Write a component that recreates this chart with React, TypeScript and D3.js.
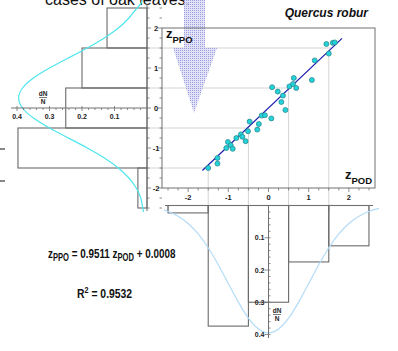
import React from "react";
import * as d3 from "d3";

// scatter of standardised scores (z POD vs z PPO)
const zPOD = [-1.5, -1.27, -1.27, -1.01, -1.05, -0.94, -0.89, -0.8, -0.69, -0.65, -0.57, -0.51, -0.47, -0.28, -0.24, -0.17, -0.09, 0.07, 0.09, 0.23, 0.32, 0.36, 0.42, 0.52, 0.61, 0.63, 0.69, 1.08, 1.15, 1.44, 1.5, 1.6, 1.65];
const zPPO = [-1.5, -1.25, -1.39, -0.85, -1.0, -0.93, -1.02, -0.75, -0.66, -0.72, -0.83, -0.58, -0.34, -0.54, -0.4, -0.19, -0.18, -0.26, 0.52, 0.41, 0.15, 0.31, -0.05, 0.54, 0.6, 0.75, 0.5, 0.7, 1.19, 1.6, 1.36, 1.63, 1.64];

// regression
const slope = 0.9511;
const intercept = 0.0008;
const lineRange = [-1.645, 1.83];

// histograms (bins of width 1 centred on -2..2)
const binEdges = [-2.5, -1.5, -0.5, 0.5, 1.5, 2.5];
const histPPO = [0.028, 0.397, 0.25, 0.2, 0.123];
const histPOD = [0.023, 0.374, 0.3, 0.175, 0.125];
const guideEdges = [-1.5, -0.5, 0.5, 1.5];

// normal density curve samples
const curveZ = [-2.7, -2.6, -2.5, -2.25, -2, -1.75, -1.5, -1.25, -1, -0.75, -0.5, -0.25, 0, 0.25, 0.5, 0.75, 1, 1.25, 1.5, 1.75, 2, 2.25, 2.5, 2.6, 2.75];
const curveD = [0.0104, 0.0136, 0.0175, 0.0317, 0.054, 0.0863, 0.1295, 0.1826, 0.242, 0.3011, 0.3521, 0.3867, 0.3989, 0.3867, 0.3521, 0.3011, 0.242, 0.1826, 0.1295, 0.0863, 0.054, 0.0317, 0.0175, 0.0136, 0.0091];

const zTicks = [-2, -1, 0, 1, 2];
const densTicks = [0.1, 0.2, 0.3, 0.4];

const font = "Liberation Sans, Arial, sans-serif";

const App = () => {
  const x = d3.scaleLinear().domain([-2.65, 2.65]).range([162, 375]);
  const y = d3.scaleLinear().domain([-2, 2]).range([188, 28]);
  const hx = d3.scaleLinear().domain([0, 0.4]).range([147, 17]);
  const hy = d3.scaleLinear().domain([0, 0.4]).range([205.5, 334.5]);

  const minorZ = d3.range(-10, 11).map((i) => i * 0.25).filter((v) => Math.abs(v) < 2.6);
  const minorD = d3.range(1, 21).map((i) => i * 0.02);

  const leftCurve = d3
    .line<number>()
    .x((_, i) => hx(curveD[i]))
    .y((d) => y(d))
    .curve(d3.curveBasis)(curveZ.filter((_, i) => i > 0));
  const bottomCurve = d3
    .line<number>()
    .x((d) => x(d))
    .y((_, i) => hy(curveD[i + 1]))
    .curve(d3.curveBasis)(curveZ.slice(1));

  const reg = (v: number) => slope * v + intercept;
  const inv = (v: number) => (v - intercept) / slope;

  return (
    <svg width={398} height={351} style={{ position: "absolute", left: 0, top: 0, background: "#fff" }} fontFamily={font}>
      <defs>
        <pattern id="dots" width={2} height={2} patternUnits="userSpaceOnUse">
          <rect width={2} height={2} fill="#dcdcf6" />
          <rect width={1} height={1} fill="#8484da" />
        </pattern>
      </defs>

      <text x={45} y={5} fontSize={16} fill="#111">cases of oak leaves.</text>

      {/* guide lines from bin edges to the regression line */}
      {guideEdges.map((e) => (
        <line key={"h" + e} x1={147} x2={x(inv(e))} y1={y(e)} y2={y(e)} stroke="#d4d4d4" />
      ))}
      {guideEdges.map((e) => (
        <line key={"v" + e} x1={x(e)} x2={x(e)} y1={205} y2={y(reg(e))} stroke="#d4d4d4" />
      ))}

      {/* arrow */}
      <polygon points="184,0 205,0 205,48 217,48 194,113 173,48 184,48" fill="url(#dots)" opacity={0.8} />

      {/* scatter frame */}
      <rect x={162} y={28} width={213} height={160} fill="none" stroke="#707070" />
      {minorZ.map((v) => (
        <line key={"fl" + v} x1={162} x2={Number.isInteger(v) ? 158 : 159.5} y1={y(v)} y2={y(v)} stroke="#707070" strokeWidth={0.8} />
      ))}
      {minorZ.map((v) => (
        <line key={"fb" + v} x1={x(v)} x2={x(v)} y1={188} y2={Number.isInteger(v) ? 192 : 190.5} stroke="#707070" strokeWidth={0.8} />
      ))}

      {/* regression line and points */}
      <line x1={x(lineRange[0])} y1={y(reg(lineRange[0]))} x2={x(lineRange[1])} y2={y(reg(lineRange[1]))} stroke="#1c1cb0" strokeWidth={1.2} />
      {zPOD.map((v, i) => (
        <circle key={i} cx={x(v)} cy={y(zPPO[i])} r={2.5} fill="#22d4da" stroke="#2a7f86" strokeWidth={0.7} />
      ))}

      <text x={166} y={38} fontSize={13} fontWeight="bold" fill="#111">z<tspan fontSize={9.5} dy={5}>PPO</tspan></text>
      <text x={345} y={179} fontSize={13} fontWeight="bold" fill="#111">z<tspan fontSize={9.5} dy={5}>POD</tspan></text>
      <text x={368} y={17} fontSize={12} fontWeight="bold" fontStyle="italic" textAnchor="end" fill="#111">Quercus robur</text>

      {/* left histogram */}
      {histPPO.map((v, i) => (
        <rect key={"lp" + i} x={hx(v)} y={y(binEdges[i + 1])} width={147 - hx(v)} height={y(binEdges[i]) - y(binEdges[i + 1])} fill="none" stroke="#6a6a6a" strokeWidth={1.1} />
      ))}
      <path d={leftCurve || ""} fill="none" stroke="#4ee6ee" strokeWidth={1.2} />
      <line x1={147} x2={147} y1={4} y2={211} stroke="#707070" />
      {minorZ.map((v) => (
        <line key={"la" + v} x1={147} x2={Number.isInteger(v) ? 151 : 149.5} y1={y(v)} y2={y(v)} stroke="#707070" strokeWidth={0.8} />
      ))}
      {zTicks.map((v) => (
        <text key={"lt" + v} x={156} y={y(v) + 2.5} fontSize={7.5} fontWeight="bold" textAnchor="middle" fill="#222">{v}</text>
      ))}
      <line x1={11} x2={147} y1={108} y2={108} stroke="#707070" />
      {minorD.map((v) => (
        <line key={"ld" + v} x1={hx(v)} x2={hx(v)} y1={Math.round(v * 100) % 10 === 0 ? 106 : 108} y2={Math.round(v * 100) % 10 === 0 ? 111 : 110} stroke="#707070" strokeWidth={0.8} />
      ))}
      {densTicks.map((v) => (
        <text key={"ldt" + v} x={hx(v)} y={119} fontSize={7} fontWeight="bold" textAnchor="middle" fill="#222">{v}</text>
      ))}
      <text x={43} y={96} fontSize={6.5} fontWeight="bold" textAnchor="middle" fill="#222">dN</text>
      <line x1={39} x2={47} y1={97.5} y2={97.5} stroke="#222" strokeWidth={0.6} />
      <text x={43} y={104} fontSize={6.5} fontWeight="bold" textAnchor="middle" fill="#222">N</text>

      {/* bottom histogram */}
      {histPOD.map((v, i) => (
        <rect key={"bp" + i} x={x(binEdges[i])} y={205.5} width={x(binEdges[i + 1]) - x(binEdges[i])} height={hy(v) - 205.5} fill="none" stroke="#6a6a6a" strokeWidth={1.1} />
      ))}
      <path d={bottomCurve || ""} fill="none" stroke="#b4dcf8" strokeWidth={1.2} />
      <line x1={165} x2={373} y1={205.5} y2={205.5} stroke="#707070" />
      {binEdges.map((v) => (
        <line key={"bt" + v} x1={x(v)} x2={x(v)} y1={205.5} y2={211} stroke="#707070" strokeWidth={0.8} />
      ))}
      {zTicks.map((v) => (
        <text key={"bl" + v} x={x(v)} y={200} fontSize={7.5} fontWeight="bold" textAnchor="middle" fill="#222">{v}</text>
      ))}
      <line x1={x(0)} x2={x(0)} y1={205.5} y2={338} stroke="#707070" />
      {minorD.map((v) => {
        const major = Math.round(v * 100) % 10 === 0;
        return <line key={"bd" + v} x1={major ? x(0) - 4 : x(0)} x2={x(0) + 2} y1={hy(v)} y2={hy(v)} stroke="#707070" strokeWidth={0.8} />;
      })}
      {densTicks.map((v) => (
        <text key={"bdt" + v} x={x(0) - 4} y={hy(v) + 2.5} fontSize={7} fontWeight="bold" textAnchor="end" fill="#222">{v}</text>
      ))}
      <text x={277} y={313} fontSize={6.5} fontWeight="bold" textAnchor="middle" fill="#222">dN</text>
      <line x1={273} x2={281} y1={314.5} y2={314.5} stroke="#222" strokeWidth={0.6} />
      <text x={277} y={321} fontSize={6.5} fontWeight="bold" textAnchor="middle" fill="#222">N</text>

      {/* stray marks at the left edge */}
      <line x1={0} x2={5} y1={149} y2={149} stroke="#111" />
      <line x1={0} x2={5} y1={181} y2={181} stroke="#111" />

      {/* equation (narrow bold type) */}
      <text transform="translate(48,258) scale(0.76,1)" fontSize={13} fontWeight="bold" fill="#111">
        z<tspan fontSize={10} dy={3}>PPO</tspan>
        <tspan dy={-3}> = 0.9511 z</tspan>
        <tspan fontSize={10} dy={3}>POD</tspan>
        <tspan dy={-3}> + 0.0008</tspan>
      </text>
      <text transform="translate(77,298) scale(0.8,1)" fontSize={13} fontWeight="bold" fill="#111">
        R<tspan fontSize={9} dy={-5}>2</tspan>
        <tspan dy={5}> = 0.9532</tspan>
      </text>
    </svg>
  );
};

export default App;
